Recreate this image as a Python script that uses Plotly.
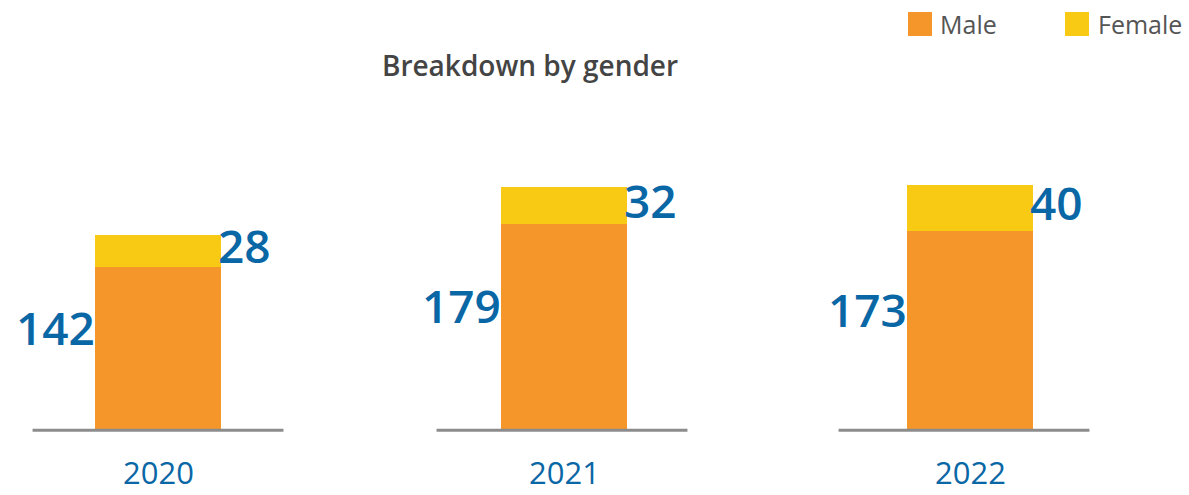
import plotly.graph_objects as go

# Headcount by gender, per year
years = ["2020", "2021", "2022"]
male = [142, 179, 173]
female = [28, 32, 40]
series_names = ["Male", "Female"]

male_color = "#F4962A"
female_color = "#F9CA14"
value_color = "#0A67A6"
text_gray = "#555555"
line_gray = "#8C8C8C"
font_family = "Open Sans"

W, H = 1189, 495
scale = 1.15          # pixels per unit
zero_px = 430         # vertical pixel of the zero line
y_lo = -5
y_hi = zero_px / scale
plot_h = (zero_px - y_lo * scale)
bottom_margin = H - plot_h
px_per_slot = 406

x = list(range(len(years)))
bar_w = 0.31
base_half = 0.309
base_offset_px = [0, -2, -6]   # small horizontal nudges of the baseline segments

fig = go.Figure()
fig.add_bar(x=x, y=male, width=bar_w, name=series_names[0],
            marker=dict(color=male_color, line_width=0))
fig.add_bar(x=x, y=female, width=bar_w, name=series_names[1],
            marker=dict(color=female_color, line_width=0))

shapes = []
annotations = []
for i, yr in enumerate(years):
    off = base_offset_px[i] / px_per_slot
    # baseline segment under each bar
    shapes.append(dict(type="line", xref="x", yref="y",
                       x0=i - base_half + off, x1=i + base_half + off, y0=0, y1=0,
                       line=dict(color=line_gray, width=3), layer="above"))
    # year label, kept inside the bottom edge
    annotations.append(dict(x=i, y=0, xref="x", yref="y", text=yr,
                            showarrow=False, yanchor="bottom", yshift=-64, borderpad=0,
                            font=dict(family=font_family, size=31, color=value_color)))
    # male value, left of bar
    annotations.append(dict(x=i - bar_w / 2, y=male[i] / 2, xref="x", yref="y",
                            text=str(male[i]), showarrow=False,
                            xanchor="right", yanchor="middle", yshift=22, xshift=2,
                            font=dict(family=font_family, size=46, color=value_color,
                                      weight=600)))
    # female value, right of bar top
    annotations.append(dict(x=i + bar_w / 2, y=male[i] + female[i] / 2, xref="x", yref="y",
                            text=str(female[i]), showarrow=False,
                            xanchor="left", yanchor="middle", yshift=6, xshift=-5,
                            font=dict(family=font_family, size=46, color=value_color,
                                      weight=600)))

# legend drawn as swatches and labels
def py(p):
    return 1 - p / plot_h

legend_items = [(series_names[0], male_color, 908, 938),
                (series_names[1], female_color, 1065, 1096)]
for name, col, sx, tx in legend_items:
    shapes.append(dict(type="rect", xref="paper", yref="paper",
                       x0=sx / W, x1=(sx + 24) / W, y0=py(36), y1=py(12),
                       fillcolor=col, line_width=0))
    annotations.append(dict(x=tx / W, y=py(24), xref="paper", yref="paper",
                            text=name, showarrow=False, xanchor="left", yanchor="middle",
                            font=dict(family=font_family, size=25, color=text_gray)))

fig.update_layout(
    width=W, height=H,
    barmode="stack", bargap=0,
    showlegend=False,
    plot_bgcolor="white", paper_bgcolor="white",
    margin=dict(l=0, r=0, t=0, b=bottom_margin, pad=0),
    title=dict(text="Breakdown by gender", x=530 / W, xanchor="center",
               y=1 - 66 / H, yanchor="middle",
               font=dict(family=font_family, size=28, color="#444444", weight=600)),
    xaxis=dict(range=[-158 / px_per_slot, (W - 158) / px_per_slot],
               visible=False, fixedrange=True),
    yaxis=dict(range=[y_lo, y_hi], visible=False, fixedrange=True),
    shapes=shapes,
    annotations=annotations,
)

fig.write_html("out.html", config={"displayModeBar": False})
